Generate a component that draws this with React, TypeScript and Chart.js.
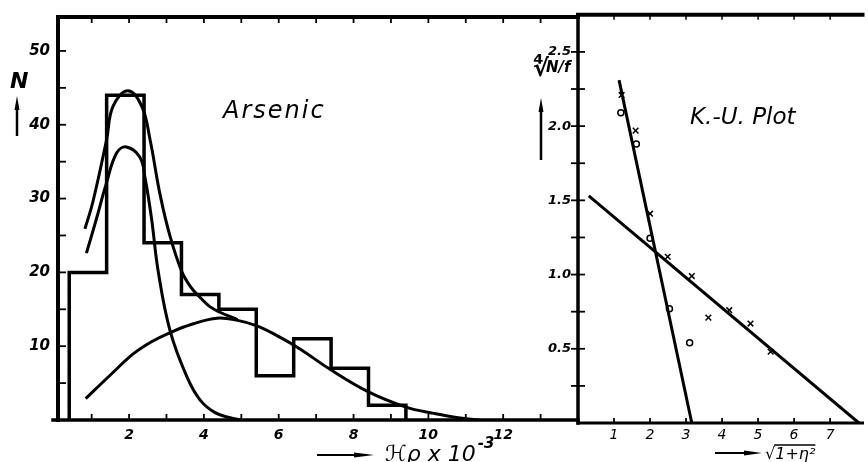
import React, { useEffect, useRef } from 'react';
import { Chart, registerables } from 'chart.js';

Chart.register(...registerables);

const FONT = "'DejaVu Sans', sans-serif";

// ---------------- Left panel: Arsenic ----------------
const binEdges = [0.4, 1.4, 2.4, 3.4, 4.4, 5.4, 6.4, 7.4, 8.4, 9.4];
const binCounts = [20, 44, 24, 17, 15, 6, 11, 7, 2];

const sumCurveX = [0.82, 1.03, 1.4, 1.57, 1.97, 2.34, 2.56, 2.83, 3.1, 3.41, 3.65, 3.9, 4.15, 4.43, 4.9];
const sumCurveY = [25.9, 29.5, 38, 42.5, 44.6, 42.5, 38, 30.5, 24.8, 20.1, 18.0, 16.6, 15.4, 14.6, 13.6];

const narrowCurveX = [0.86, 1.13, 1.4, 1.67, 1.93, 2.29, 2.43, 2.6, 2.78, 3.1, 3.55, 3.9, 4.3, 4.7, 5.0];
const narrowCurveY = [22.6, 27.3, 32.2, 36.2, 37, 35.6, 32.7, 27.3, 20.1, 12, 5.8, 2.7, 1.0, 0.3, 0];

const broadCurveX = [0.84, 1.5, 2.11, 2.6, 3.1, 3.7, 4.35, 4.9, 5.42, 6.04, 6.58, 7.33, 8.4, 9.4, 10.15, 10.8, 11.35];
const broadCurveY = [2.9, 6.1, 8.95, 10.6, 11.85, 13.0, 13.8, 13.5, 12.75, 11.2, 9.6, 7.0, 3.8, 1.75, 0.9, 0.3, 0];

const leftXTickLabels = [2, 4, 6, 8, 10, 12];
const leftXMinorTicks = [1, 2, 3, 4, 5, 6, 7, 8, 9, 10, 11, 12, 13];
const leftYTickLabels = [10, 20, 30, 40, 50];
const leftYMinorTicks = [5, 10, 15, 20, 25, 30, 35, 40, 45, 50];

// ---------------- Right panel: K.-U. Plot ----------------
const steepLineX = [1.14, 3.16];
const steepLineY = [2.31, 0];
const shallowLineX = [0.3, 7.8];
const shallowLineY = [1.53, 0];
const crossPointsX = [1.21, 1.6, 2.0, 2.49, 3.16, 3.62, 4.2, 4.79, 5.35];
const crossPointsY = [2.21, 1.97, 1.41, 1.12, 0.99, 0.71, 0.76, 0.67, 0.48];
const circlePointsX = [1.19, 1.62, 2.0, 2.54, 3.1];
const circlePointsY = [2.09, 1.88, 1.245, 0.77, 0.54];

const rightXTickLabels = [1, 2, 3, 4, 5, 6, 7];
const rightYTickLabels = [0.5, 1.0, 1.5, 2.0, 2.5];
const rightYMinorTicks = [0.25, 0.5, 0.75, 1.0, 1.25, 1.5, 1.75, 2.0, 2.25, 2.5];

const zip = (xs: number[], ys: number[]) => xs.map((x, i) => ({ x, y: ys[i] }));

function strokeLine(ctx: CanvasRenderingContext2D, x1: number, y1: number, x2: number, y2: number, w: number) {
  ctx.lineWidth = w;
  ctx.beginPath();
  ctx.moveTo(x1, y1);
  ctx.lineTo(x2, y2);
  ctx.stroke();
}

function drawArrow(ctx: CanvasRenderingContext2D, x1: number, y1: number, x2: number, y2: number, shaftW: number, headLen: number, headW: number) {
  const ang = Math.atan2(y2 - y1, x2 - x1);
  const bx = x2 - headLen * Math.cos(ang);
  const by = y2 - headLen * Math.sin(ang);
  strokeLine(ctx, x1, y1, bx, by, shaftW);
  ctx.beginPath();
  ctx.moveTo(x2, y2);
  ctx.lineTo(bx + (headW / 2) * Math.sin(ang), by - (headW / 2) * Math.cos(ang));
  ctx.lineTo(bx - (headW / 2) * Math.sin(ang), by + (headW / 2) * Math.cos(ang));
  ctx.closePath();
  ctx.fill();
}

const leftDecor = {
  id: 'leftDecor',
  afterDraw(chart: any) {
    const { ctx, chartArea: a, scales } = chart;
    const x = scales.x;
    const y = scales.y;
    ctx.save();
    ctx.strokeStyle = '#000';
    ctx.fillStyle = '#000';
    ctx.lineCap = 'square';
    strokeLine(ctx, a.left, a.top, a.right, a.top, 4);
    strokeLine(ctx, a.left, a.top, a.left, a.bottom, 4);
    strokeLine(ctx, a.left - 5, a.bottom, a.right, a.bottom, 3.5);
    ctx.lineCap = 'butt';
    leftXMinorTicks.forEach((v) => {
      const px = x.getPixelForValue(v);
      strokeLine(ctx, px, a.bottom, px, a.bottom - 6, 1.8);
      strokeLine(ctx, px, a.top, px, a.top + 6, 1.8);
    });
    leftYMinorTicks.forEach((v) => {
      const py = y.getPixelForValue(v);
      strokeLine(ctx, a.left, py, a.left + 8, py, 1.8);
    });
    ctx.font = `italic 24px ${FONT}`;
    (ctx as any).letterSpacing = '2px';
    ctx.textBaseline = 'alphabetic';
    ctx.fillText('Arsenic', 223, 118);
    (ctx as any).letterSpacing = '0px';
    ctx.font = `italic bold 22px ${FONT}`;
    ctx.fillText('N', 10, 88);
    drawArrow(ctx, 17, 136, 17, 96, 2.5, 14, 5);
    drawArrow(ctx, 317, 455, 374, 455, 2, 20, 5);
    ctx.font = `italic 22px ${FONT}`;
    const lbl = 'ℋρ x 10';
    ctx.fillText(lbl, 385, 461);
    const w = ctx.measureText(lbl).width;
    ctx.font = `italic bold 15px ${FONT}`;
    ctx.fillText('-3', 385 + w + 2, 448);
    ctx.restore();
  },
};

const rightDecor = {
  id: 'rightDecor',
  afterDraw(chart: any) {
    const { ctx, chartArea: a, scales } = chart;
    const x = scales.x;
    const y = scales.y;
    ctx.save();
    ctx.strokeStyle = '#000';
    ctx.fillStyle = '#000';
    ctx.lineCap = 'square';
    strokeLine(ctx, a.left, a.top, a.right, a.top, 4);
    strokeLine(ctx, a.left, a.top, a.left, a.bottom, 3.5);
    strokeLine(ctx, a.left, a.bottom, a.right, a.bottom, 3);
    ctx.lineCap = 'butt';
    rightYMinorTicks.forEach((v) => {
      const py = y.getPixelForValue(v);
      strokeLine(ctx, a.left - 7, py, a.left + 7, py, 1.8);
    });
    rightXTickLabels.forEach((v) => {
      const px = x.getPixelForValue(v);
      strokeLine(ctx, px, a.bottom, px, a.bottom - 5, 1.8);
      strokeLine(ctx, px, a.top, px, a.top + 5, 1.5);
    });
    ctx.textBaseline = 'alphabetic';
    ctx.font = `italic 23px ${FONT}`;
    ctx.fillText('K.-U. Plot', 160, 124);
    // y label
    ctx.font = `italic bold 24px ${FONT}`;
    ctx.fillText('∜', 3, 76);
    const rw = ctx.measureText('∜').width;
    ctx.font = `italic bold 15px ${FONT}`;
    ctx.fillText('N/f', 3 + rw - 3, 72);
    drawArrow(ctx, 11, 160, 11, 98, 2.5, 14, 5);
    // x label
    drawArrow(ctx, 185, 453, 232, 453, 2, 18, 5);
    ctx.font = `italic 16px ${FONT}`;
    ctx.fillText('√', 235, 459);
    const sw = ctx.measureText('√').width;
    ctx.fillText('1+η²', 235 + sw, 459);
    const tw = ctx.measureText('1+η²').width;
    strokeLine(ctx, 235 + sw - 1, 445, 235 + sw + tw, 445, 1.5);
    ctx.restore();
  },
};

const tickFont = { family: FONT, style: 'italic' as const, weight: 'bold' as const, size: 14 };

export default function App() {
  const leftRef = useRef<HTMLCanvasElement>(null);
  const rightRef = useRef<HTMLCanvasElement>(null);

  useEffect(() => {
    document.body.style.margin = '0';
    const histPoints = [
      { x: binEdges[0], y: 0 },
      ...binCounts.map((c, i) => ({ x: binEdges[i], y: c })),
      { x: binEdges[binEdges.length - 1], y: 0 },
    ];
    const curveStyle = {
      borderColor: '#000',
      borderWidth: 3,
      pointRadius: 0,
      tension: 0.4,
      fill: false,
    };
    const left = new Chart(leftRef.current!, {
      type: 'line',
      data: {
        datasets: [
          { label: 'Histogram', data: histPoints, stepped: 'before', borderColor: '#000', borderWidth: 3.5, pointRadius: 0, fill: false },
          { label: 'Sum', data: zip(sumCurveX, sumCurveY), ...curveStyle },
          { label: 'Narrow', data: zip(narrowCurveX, narrowCurveY), ...curveStyle },
          { label: 'Broad', data: zip(broadCurveX, broadCurveY), ...curveStyle },
        ],
      },
      options: {
        animation: false,
        responsive: false,
        devicePixelRatio: 1,
        layout: { padding: { left: 0, right: 22, top: 13, bottom: 0 } },
        plugins: { legend: { display: false }, tooltip: { enabled: false } },
        scales: {
          x: {
            type: 'linear',
            min: 0.1,
            max: 14,
            grid: { display: false, drawTicks: false },
            border: { display: false },
            afterBuildTicks: (s: any) => { s.ticks = leftXTickLabels.map((v) => ({ value: v })); },
            afterFit: (s: any) => { s.height = 42; },
            ticks: { font: tickFont, color: '#000', padding: 7, maxRotation: 0, autoSkip: false, callback: (v: any) => String(v) },
          },
          y: {
            type: 'linear',
            min: 0,
            max: 54.6,
            grid: { display: false, drawTicks: false },
            border: { display: false },
            afterBuildTicks: (s: any) => { s.ticks = leftYTickLabels.map((v) => ({ value: v })); },
            afterFit: (s: any) => { s.width = 58; },
            ticks: { font: { ...tickFont, size: 15 }, color: '#000', padding: 8, autoSkip: false, callback: (v: any) => String(v) },
          },
        },
      },
      plugins: [leftDecor],
    } as any);

    const right = new Chart(rightRef.current!, {
      type: 'line',
      data: {
        datasets: [
          { label: 'Steep', data: zip(steepLineX, steepLineY), borderColor: '#000', borderWidth: 3, pointRadius: 0, fill: false },
          { label: 'Shallow', data: zip(shallowLineX, shallowLineY), borderColor: '#000', borderWidth: 3, pointRadius: 0, fill: false },
          { label: 'Crosses', data: zip(crossPointsX, crossPointsY), showLine: false, pointStyle: 'crossRot', pointRadius: 4, borderColor: '#000', borderWidth: 1.5 },
          { label: 'Circles', data: zip(circlePointsX, circlePointsY), showLine: false, pointStyle: 'circle', pointRadius: 3, borderColor: '#000', backgroundColor: 'rgba(0,0,0,0)', borderWidth: 1.5 },
        ],
      },
      options: {
        animation: false,
        responsive: false,
        devicePixelRatio: 1,
        layout: { padding: { left: 0, right: 0, top: 13, bottom: 0 } },
        plugins: { legend: { display: false }, tooltip: { enabled: false } },
        scales: {
          x: {
            type: 'linear',
            min: 0,
            max: 7.9,
            grid: { display: false, drawTicks: false },
            border: { display: false },
            afterBuildTicks: (s: any) => { s.ticks = rightXTickLabels.map((v) => ({ value: v })); },
            afterFit: (s: any) => { s.height = 39; },
            ticks: { font: { ...tickFont, weight: 'normal', size: 14 }, color: '#000', padding: 4, maxRotation: 0, autoSkip: false, callback: (v: any) => String(v) },
          },
          y: {
            type: 'linear',
            min: 0,
            max: 2.75,
            grid: { display: false, drawTicks: false },
            border: { display: false },
            afterBuildTicks: (s: any) => { s.ticks = rightYTickLabels.map((v) => ({ value: v })); },
            afterFit: (s: any) => { s.width = 48; },
            ticks: { font: { ...tickFont, size: 13 }, color: '#000', padding: 7, autoSkip: false, callback: (v: any) => Number(v).toFixed(1) },
          },
        },
      },
      plugins: [rightDecor],
    } as any);

    return () => {
      left.destroy();
      right.destroy();
    };
  }, []);

  return (
    <div style={{ position: 'relative', width: 868, height: 462, overflow: 'hidden', background: '#fff' }}>
      <canvas ref={leftRef} width={600} height={462} style={{ position: 'absolute', left: 0, top: 0, width: 600, height: 462 }} />
      <canvas ref={rightRef} width={338} height={462} style={{ position: 'absolute', left: 530, top: 0, width: 338, height: 462 }} />
    </div>
  );
}
